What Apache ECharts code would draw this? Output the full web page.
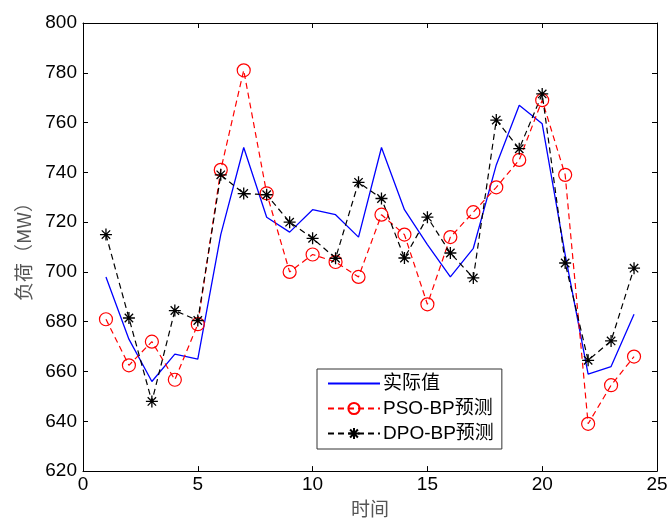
<!DOCTYPE html>
<html>
<head>
<meta charset="utf-8">
<script src="https://cdn.jsdelivr.net/npm/echarts@6/dist/echarts.min.js"></script>
<style>
html, body { margin: 0; padding: 0; background: #fff; }
#chart { width: 671px; height: 523px; }
</style>
</head>
<body>
<div id="chart"></div>
<script>
var hours = [1, 2, 3, 4, 5, 6, 7, 8, 9, 10, 11, 12, 13, 14, 15, 16, 17, 18, 19, 20, 21, 22, 23, 24];
var actualLoad = [698, 673, 656, 667, 665, 715, 750, 722, 716, 725, 723, 714, 750, 725, 711, 698, 709.5, 743, 767, 759.5, 707, 659, 662, 683];
var psoLoad = [681, 662.5, 672, 656.7, 679, 741, 781, 731.6, 700, 707, 704, 698, 723, 715, 687, 714, 724, 734, 745, 769, 739, 639, 654.5, 666];
var dpoLoad = [715, 681.5, 648, 684.5, 680.5, 739, 731.5, 731, 720, 713.5, 705.5, 736, 729.5, 705.6, 722, 707.6, 697.6, 761, 749.5, 771.5, 703.6, 664.5, 672.3, 701.5];
var seriesNames = ['实际值', 'PSO-BP预测', 'DPO-BP预测'];

function pairs(values) {
	var out = [];
	for (var i = 0; i < hours.length; i++) {
		out.push([hours[i], values[i]]);
	}
	return out;
}

var starPath = 'path://M5,0L5,10M0,5L10,5M1.5,1.5L8.5,8.5M1.5,8.5L8.5,1.5';
var fontLatin = '"Liberation Sans", Arial, "Noto Sans CJK SC", sans-serif';
var fontCjk = '"Noto Sans CJK SC", sans-serif';

var chart = echarts.init(document.getElementById('chart'), null, { renderer: 'canvas' });

var baseX = {
	type: 'value',
	min: 0,
	max: 25,
	interval: 5,
	splitLine: { show: false },
	axisLine: { onZero: false, lineStyle: { color: '#000', width: 1 } },
	axisTick: { inside: true, length: 5, lineStyle: { color: '#000' } }
};
var baseY = {
	type: 'value',
	min: 620,
	max: 800,
	interval: 20,
	splitLine: { show: false },
	axisLine: { onZero: false, lineStyle: { color: '#000', width: 1 } },
	axisTick: { inside: true, length: 5, lineStyle: { color: '#000' } }
};

var option = {
	backgroundColor: '#fff',
	animation: false,
	grid: { left: 83, right: 14, top: 23, bottom: 50 },
	xAxis: [
		Object.assign({}, baseX, {
			position: 'bottom',
			name: '时间',
			nameLocation: 'middle',
			nameGap: 27,
			nameTextStyle: { fontFamily: fontCjk, fontSize: 19, color: '#555' },
			axisLabel: { color: '#000', fontFamily: fontLatin, fontSize: 19, margin: 4 }
		}),
		Object.assign({}, baseX, { position: 'top', axisLabel: { show: false } })
	],
	yAxis: [
		Object.assign({}, baseY, {
			position: 'left',
			name: '负荷（MW）',
			nameLocation: 'middle',
			nameGap: 50,
			nameTextStyle: { fontFamily: fontCjk, fontSize: 19, color: '#555' },
			axisLabel: { color: '#000', fontFamily: fontLatin, fontSize: 19, margin: 6 }
		}),
		Object.assign({}, baseY, { position: 'right', axisLabel: { show: false } })
	],
	legend: {
		orient: 'vertical',
		left: 317,
		top: 369,
		padding: [5, 8, 6, 10],
		itemGap: 6,
		itemWidth: 52,
		itemHeight: 14,
		borderColor: '#333',
		borderWidth: 1,
		backgroundColor: '#fff',
		textStyle: { fontFamily: fontLatin, fontSize: 19, color: '#000', padding: [0, 0, 0, -2] },
		data: seriesNames
	},
	series: [
		{
			name: seriesNames[0],
			type: 'line',
			data: pairs(actualLoad),
			symbol: 'circle',
			showSymbol: false,
			lineStyle: { color: '#0000ff', width: 1.3 },
			itemStyle: { color: 'rgba(0,0,255,0)', borderWidth: 0 }
		},
		{
			name: seriesNames[1],
			type: 'line',
			data: pairs(psoLoad),
			symbol: 'circle',
			symbolSize: 13,
			lineStyle: { color: '#ff0000', width: 1.2, type: [6, 4] },
			itemStyle: { color: 'rgba(255,255,255,0)', borderColor: '#ff0000', borderWidth: 1.2 }
		},
		{
			name: seriesNames[2],
			type: 'line',
			data: pairs(dpoLoad),
			symbol: starPath,
			symbolSize: 12,
			lineStyle: { color: '#000', width: 1.2, type: [6, 4] },
			itemStyle: { color: 'rgba(0,0,0,0)', borderColor: '#000', borderWidth: 1.3 }
		}
	]
};

chart.setOption(option);
</script>
</body>
</html>
